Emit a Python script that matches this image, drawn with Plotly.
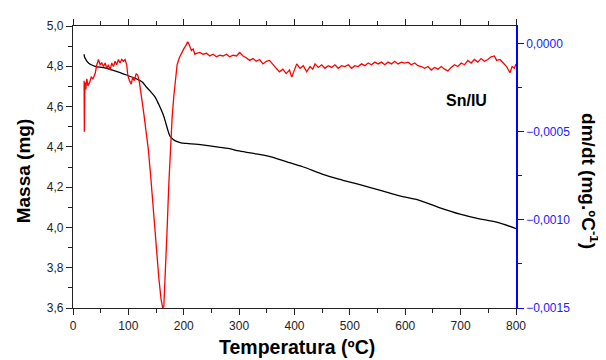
import plotly.graph_objects as go

# Mass (TG) curve
temp_mass = [20, 21, 23, 26, 31, 40, 55, 70, 85, 100, 115, 125, 133, 141, 148, 155, 163, 169, 175,
             181, 187, 195, 205, 226, 250, 280, 300, 330, 356, 385, 416, 450, 480, 518, 560, 590,
             620, 660, 699, 730, 765, 800]
mass = [4.86, 4.845, 4.835, 4.822, 4.81, 4.80, 4.793, 4.782, 4.769, 4.753, 4.737, 4.722, 4.696,
        4.672, 4.648, 4.61, 4.559, 4.505, 4.454, 4.437, 4.427, 4.42, 4.417, 4.412, 4.404, 4.392,
        4.38, 4.365, 4.352, 4.327, 4.30, 4.265, 4.24, 4.212, 4.18, 4.157, 4.139, 4.10, 4.066,
        4.045, 4.026, 3.994]

# Derivative (DTG) curve, values in units of 1e-5 mg/ºC
temp_dtg = [20, 20.5, 21.5, 23, 25, 27, 30, 33, 36, 40, 43, 46, 49, 52, 55, 58, 61, 64, 67, 70,
            73, 76, 79, 82, 85, 88, 91, 94, 97, 99, 102, 105, 108, 111, 114, 117, 120, 124, 128,
            132, 136, 140, 145, 150, 155, 159, 162, 164, 167, 170, 173, 176, 179, 182, 185, 188,
            192, 196, 200, 204, 207, 209, 211, 214, 217, 220,
            223, 229, 235, 241, 247, 253, 259, 265, 271, 277, 283, 289, 295, 301, 307, 313, 319,
            325, 331, 337, 343, 349, 355, 361, 367, 373, 379, 385, 391, 395, 400, 404, 410, 416,
            422, 428, 433, 437, 443, 449, 455, 461, 467, 473, 479, 485, 491, 497, 503, 509, 515,
            521, 527, 533, 539, 545, 551, 557, 563, 569, 575, 581, 587, 593, 599, 605, 611, 617,
            623, 629, 635, 641, 647, 653, 659, 665, 671, 677, 683, 689, 695, 701, 707, 713, 719,
            725, 731, 737, 743, 749, 755, 761, 765, 771, 777, 783, 789, 793, 797, 800]
dtg_e5 = [-21, -50, -22, -26, -20, -24, -22, -19, -20, -17, -12, -9, -12, -11, -13, -11, -14, -12,
          -15, -11, -13, -10, -12, -9, -11, -9, -10, -9, -12, -18, -21, -23, -19, -21, -17, -18,
          -22, -30, -40, -50, -60, -74, -95, -115, -133, -145, -150, -149, -130, -105, -80, -60,
          -42, -30, -20, -12, -8, -5, -3, -1, 1, 0, -2, -4, -3, -6,
          -5.5, -5, -6, -5.5, -7, -6, -7.5, -6.5, -7, -6, -7.5, -6.5, -7, -5, -7, -8, -9.5,
          -8.5, -10, -9, -11.5, -10, -9.5, -12, -14, -16, -14.5, -17, -15, -19, -15, -11.5, -14,
          -12.5, -16, -13, -14.5, -11.5, -13.5, -12, -14, -12.5, -13.5, -12, -14, -12.5, -13,
          -12, -14, -12.5, -13, -11.5, -12.5, -11, -12, -10.5, -11.5, -10.5, -12, -10.5, -11.5,
          -10, -11.5, -10.5, -11, -10.5, -12, -11, -12.5, -13, -14, -13, -15, -13.5, -14.5, -13,
          -14.5, -15.5, -13.5, -12, -13, -11, -12, -9.5, -11, -9, -10.5, -8.5, -10, -9, -7.5,
          -7, -9.5, -9, -11, -13, -16.5, -13, -14, -11.5]
dtg = [v * 1e-5 for v in dtg_e5]

FONT = "Liberation Sans, Arial, sans-serif"

fig = go.Figure()
fig.add_trace(go.Scatter(x=temp_mass, y=mass, mode="lines", line=dict(color="black", width=1.3),
                         line_shape="spline", showlegend=False))
fig.add_trace(go.Scatter(x=temp_dtg, y=dtg, mode="lines", line=dict(color="#ff0000", width=1.3),
                         yaxis="y2", showlegend=False))

fig.update_layout(
    width=598, height=352,
    margin=dict(l=65, r=90, t=11, b=52),
    paper_bgcolor="white", plot_bgcolor="white",
    separators=", ",
    font=dict(family=FONT, size=12, color="#222222"),
    xaxis=dict(range=[0, 800], dtick=100, tick0=0, showline=True, linecolor="#222222", linewidth=1.3,
               mirror="ticks", ticks="outside", ticklen=6, tickcolor="#222222", tickwidth=1.2,
               minor=dict(dtick=50, ticks="outside", ticklen=4, tickcolor="#222222"),
               showgrid=False, zeroline=False, tickfont=dict(size=12, family=FONT)),
    yaxis=dict(range=[3.6, 5.0], dtick=0.2, tick0=3.6, tickformat=".1f", showline=True,
               linecolor="#222222", linewidth=1.3, ticks="outside", ticklen=6, tickcolor="#222222",
               tickwidth=1.2, minor=dict(dtick=0.1, ticks="outside", ticklen=4, tickcolor="#222222"),
               showgrid=False, zeroline=False, tickfont=dict(size=12, family=FONT)),
    yaxis2=dict(range=[-0.0015, 0.0001], overlaying="y", side="right", anchor="x",
                dtick=0.0005, tick0=0, tickformat=".4f", showline=True, linecolor="#0000ff",
                linewidth=1.5, ticks="outside", ticklen=6, tickcolor="#0000ff", tickwidth=1.2,
                minor=dict(dtick=0.00025, ticks="outside", ticklen=4, tickcolor="#0000ff"),
                showgrid=False, zeroline=False, tickfont=dict(size=12, family=FONT, color="#2020ff")),
    annotations=[
        dict(text="<b>Massa (mg)</b>", xref="paper", yref="paper", x=-0.113, y=0.488,
             xanchor="center", yanchor="middle", textangle=-90, showarrow=False,
             font=dict(size=19, family=FONT, color="black")),
        dict(text="<b>Temperatura (ºC)</b>", xref="paper", yref="paper", x=0.505, y=-0.14,
             xanchor="center", yanchor="middle", showarrow=False,
             font=dict(size=19.5, family=FONT, color="black")),
        dict(text="<b>dm/dt (mg.ºC<sup>-1</sup>)</b>", xref="paper", yref="paper", x=1.167, y=0.45,
             xanchor="center", yanchor="middle", textangle=90, showarrow=False,
             font=dict(size=19, family=FONT, color="black")),
        dict(text="<b>Sn/IU</b>", xref="paper", yref="paper", x=0.889, y=0.737,
             xanchor="center", yanchor="middle", showarrow=False,
             font=dict(size=16, family=FONT, color="black")),
    ],
)

fig.write_html("out.html")
